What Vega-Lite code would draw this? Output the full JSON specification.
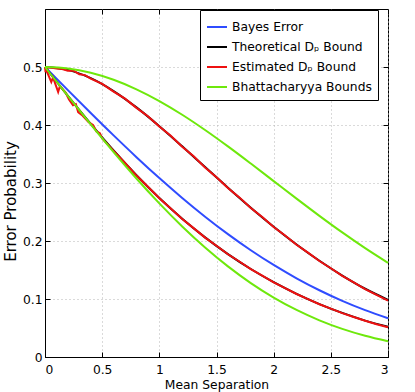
{
  "$schema": "https://vega.github.io/schema/vega-lite/v6.json",
  "width": 343,
  "height": 348,
  "autosize": {"type": "none"},
  "padding": {"left": 45, "top": 9, "right": 27, "bottom": 35},
  "config": {
    "view": {"stroke": "#000", "strokeWidth": 1},
    "font": "DejaVu Sans",
    "axis": {
      "labelFont": "DejaVu Sans", "labelFontSize": 12.3, "labelColor": "#000",
      "titleFont": "DejaVu Sans", "titleFontSize": 12.3, "titleFontWeight": "normal", "titleColor": "#000",
      "domainColor": "#000", "tickColor": "#000", "gridColor": "#b4b4b4", "gridDash": [1, 3], "gridOpacity": 1
    },
    "legend": {
      "orient": "none", "legendX": 155, "legendY": 1,
      "strokeColor": "#000", "fillColor": "#fff", "padding": 6,
      "labelFont": "DejaVu Sans", "labelFontSize": 12.3, "labelColor": "#000",
      "symbolType": "stroke", "symbolStrokeWidth": 2, "symbolSize": 400,
      "rowPadding": 2, "labelOffset": 4
    }
  },
  "datasets": {
    "curves": [
      {"s": "Bayes Error", "p": "m", "x": 0, "y": 0.5},
      {"s": "Bayes Error", "p": "m", "x": 0.2, "y": 0.46017},
      {"s": "Bayes Error", "p": "m", "x": 0.4, "y": 0.42074},
      {"s": "Bayes Error", "p": "m", "x": 0.6, "y": 0.38209},
      {"s": "Bayes Error", "p": "m", "x": 0.8, "y": 0.34458},
      {"s": "Bayes Error", "p": "m", "x": 1.0, "y": 0.30854},
      {"s": "Bayes Error", "p": "m", "x": 1.2, "y": 0.27425},
      {"s": "Bayes Error", "p": "m", "x": 1.4, "y": 0.24196},
      {"s": "Bayes Error", "p": "m", "x": 1.6, "y": 0.21186},
      {"s": "Bayes Error", "p": "m", "x": 1.8, "y": 0.18406},
      {"s": "Bayes Error", "p": "m", "x": 2.0, "y": 0.15866},
      {"s": "Bayes Error", "p": "m", "x": 2.2, "y": 0.13567},
      {"s": "Bayes Error", "p": "m", "x": 2.4, "y": 0.11507},
      {"s": "Bayes Error", "p": "m", "x": 2.6, "y": 0.0968},
      {"s": "Bayes Error", "p": "m", "x": 2.8, "y": 0.08076},
      {"s": "Bayes Error", "p": "m", "x": 3.0, "y": 0.06681},

      {"s": "Theoretical Dₚ Bound", "p": "u", "x": 0, "y": 0.5},
      {"s": "Theoretical Dₚ Bound", "p": "u", "x": 0.2, "y": 0.49505},
      {"s": "Theoretical Dₚ Bound", "p": "u", "x": 0.4, "y": 0.48075},
      {"s": "Theoretical Dₚ Bound", "p": "u", "x": 0.6, "y": 0.45856},
      {"s": "Theoretical Dₚ Bound", "p": "u", "x": 0.8, "y": 0.43034},
      {"s": "Theoretical Dₚ Bound", "p": "u", "x": 1.0, "y": 0.39799},
      {"s": "Theoretical Dₚ Bound", "p": "u", "x": 1.2, "y": 0.36323},
      {"s": "Theoretical Dₚ Bound", "p": "u", "x": 1.4, "y": 0.32749},
      {"s": "Theoretical Dₚ Bound", "p": "u", "x": 1.6, "y": 0.29193},
      {"s": "Theoretical Dₚ Bound", "p": "u", "x": 1.8, "y": 0.25743},
      {"s": "Theoretical Dₚ Bound", "p": "u", "x": 2.0, "y": 0.22464},
      {"s": "Theoretical Dₚ Bound", "p": "u", "x": 2.2, "y": 0.19403},
      {"s": "Theoretical Dₚ Bound", "p": "u", "x": 2.4, "y": 0.1659},
      {"s": "Theoretical Dₚ Bound", "p": "u", "x": 2.6, "y": 0.14042},
      {"s": "Theoretical Dₚ Bound", "p": "u", "x": 2.8, "y": 0.11767},
      {"s": "Theoretical Dₚ Bound", "p": "u", "x": 3.0, "y": 0.0986},
      {"s": "Theoretical Dₚ Bound", "p": "l", "x": 0, "y": 0.5},
      {"s": "Theoretical Dₚ Bound", "p": "l", "x": 0.2, "y": 0.45024},
      {"s": "Theoretical Dₚ Bound", "p": "l", "x": 0.4, "y": 0.4019},
      {"s": "Theoretical Dₚ Bound", "p": "l", "x": 0.6, "y": 0.35605},
      {"s": "Theoretical Dₚ Bound", "p": "l", "x": 0.8, "y": 0.31338},
      {"s": "Theoretical Dₚ Bound", "p": "l", "x": 1.0, "y": 0.27416},
      {"s": "Theoretical Dₚ Bound", "p": "l", "x": 1.2, "y": 0.2385},
      {"s": "Theoretical Dₚ Bound", "p": "l", "x": 1.4, "y": 0.20631},
      {"s": "Theoretical Dₚ Bound", "p": "l", "x": 1.6, "y": 0.17746},
      {"s": "Theoretical Dₚ Bound", "p": "l", "x": 1.8, "y": 0.15174},
      {"s": "Theoretical Dₚ Bound", "p": "l", "x": 2.0, "y": 0.12894},
      {"s": "Theoretical Dₚ Bound", "p": "l", "x": 2.2, "y": 0.10886},
      {"s": "Theoretical Dₚ Bound", "p": "l", "x": 2.4, "y": 0.09128},
      {"s": "Theoretical Dₚ Bound", "p": "l", "x": 2.6, "y": 0.07598},
      {"s": "Theoretical Dₚ Bound", "p": "l", "x": 2.8, "y": 0.06277},
      {"s": "Theoretical Dₚ Bound", "p": "l", "x": 3.0, "y": 0.05225},

      {"s": "Estimated Dₚ Bound", "p": "u", "x": 0, "y": 0.5},
      {"s": "Estimated Dₚ Bound", "p": "u", "x": 0.005, "y": 0.491},
      {"s": "Estimated Dₚ Bound", "p": "u", "x": 0.02, "y": 0.4995},
      {"s": "Estimated Dₚ Bound", "p": "u", "x": 0.06, "y": 0.4985},
      {"s": "Estimated Dₚ Bound", "p": "u", "x": 0.1, "y": 0.4975},
      {"s": "Estimated Dₚ Bound", "p": "u", "x": 0.15, "y": 0.4965},
      {"s": "Estimated Dₚ Bound", "p": "u", "x": 0.2, "y": 0.4935},
      {"s": "Estimated Dₚ Bound", "p": "u", "x": 0.25, "y": 0.4935},
      {"s": "Estimated Dₚ Bound", "p": "u", "x": 0.3, "y": 0.4875},
      {"s": "Estimated Dₚ Bound", "p": "u", "x": 0.35, "y": 0.486},
      {"s": "Estimated Dₚ Bound", "p": "u", "x": 0.4, "y": 0.48},
      {"s": "Estimated Dₚ Bound", "p": "u", "x": 0.5, "y": 0.471},
      {"s": "Estimated Dₚ Bound", "p": "u", "x": 0.6, "y": 0.4575},
      {"s": "Estimated Dₚ Bound", "p": "u", "x": 0.7, "y": 0.4455},
      {"s": "Estimated Dₚ Bound", "p": "u", "x": 0.8, "y": 0.4295},
      {"s": "Estimated Dₚ Bound", "p": "u", "x": 0.9, "y": 0.415},
      {"s": "Estimated Dₚ Bound", "p": "u", "x": 1.0, "y": 0.3975},
      {"s": "Estimated Dₚ Bound", "p": "u", "x": 1.1, "y": 0.3815},
      {"s": "Estimated Dₚ Bound", "p": "u", "x": 1.2, "y": 0.3625},
      {"s": "Estimated Dₚ Bound", "p": "u", "x": 1.3, "y": 0.346},
      {"s": "Estimated Dₚ Bound", "p": "u", "x": 1.4, "y": 0.3268},
      {"s": "Estimated Dₚ Bound", "p": "u", "x": 1.5, "y": 0.31},
      {"s": "Estimated Dₚ Bound", "p": "u", "x": 1.6, "y": 0.2915},
      {"s": "Estimated Dₚ Bound", "p": "u", "x": 1.7, "y": 0.2752},
      {"s": "Estimated Dₚ Bound", "p": "u", "x": 1.8, "y": 0.257},
      {"s": "Estimated Dₚ Bound", "p": "u", "x": 1.9, "y": 0.2415},
      {"s": "Estimated Dₚ Bound", "p": "u", "x": 2.0, "y": 0.2242},
      {"s": "Estimated Dₚ Bound", "p": "u", "x": 2.1, "y": 0.2094},
      {"s": "Estimated Dₚ Bound", "p": "u", "x": 2.2, "y": 0.1936},
      {"s": "Estimated Dₚ Bound", "p": "u", "x": 2.3, "y": 0.18},
      {"s": "Estimated Dₚ Bound", "p": "u", "x": 2.4, "y": 0.1655},
      {"s": "Estimated Dₚ Bound", "p": "u", "x": 2.5, "y": 0.153},
      {"s": "Estimated Dₚ Bound", "p": "u", "x": 2.6, "y": 0.14},
      {"s": "Estimated Dₚ Bound", "p": "u", "x": 2.7, "y": 0.1288},
      {"s": "Estimated Dₚ Bound", "p": "u", "x": 2.8, "y": 0.1172},
      {"s": "Estimated Dₚ Bound", "p": "u", "x": 2.9, "y": 0.1072},
      {"s": "Estimated Dₚ Bound", "p": "u", "x": 3.0, "y": 0.0972},
      {"s": "Estimated Dₚ Bound", "p": "l", "x": 0, "y": 0.5},
      {"s": "Estimated Dₚ Bound", "p": "l", "x": 0.055, "y": 0.474},
      {"s": "Estimated Dₚ Bound", "p": "l", "x": 0.07, "y": 0.482},
      {"s": "Estimated Dₚ Bound", "p": "l", "x": 0.115, "y": 0.457},
      {"s": "Estimated Dₚ Bound", "p": "l", "x": 0.13, "y": 0.467},
      {"s": "Estimated Dₚ Bound", "p": "l", "x": 0.18, "y": 0.456},
      {"s": "Estimated Dₚ Bound", "p": "l", "x": 0.21, "y": 0.444},
      {"s": "Estimated Dₚ Bound", "p": "l", "x": 0.245, "y": 0.434},
      {"s": "Estimated Dₚ Bound", "p": "l", "x": 0.27, "y": 0.436},
      {"s": "Estimated Dₚ Bound", "p": "l", "x": 0.29, "y": 0.422},
      {"s": "Estimated Dₚ Bound", "p": "l", "x": 0.33, "y": 0.416},
      {"s": "Estimated Dₚ Bound", "p": "l", "x": 0.38, "y": 0.405},
      {"s": "Estimated Dₚ Bound", "p": "l", "x": 0.42, "y": 0.4},
      {"s": "Estimated Dₚ Bound", "p": "l", "x": 0.45, "y": 0.389},
      {"s": "Estimated Dₚ Bound", "p": "l", "x": 0.48, "y": 0.386},
      {"s": "Estimated Dₚ Bound", "p": "l", "x": 0.5, "y": 0.377},
      {"s": "Estimated Dₚ Bound", "p": "l", "x": 0.6, "y": 0.3555},
      {"s": "Estimated Dₚ Bound", "p": "l", "x": 0.7, "y": 0.3345},
      {"s": "Estimated Dₚ Bound", "p": "l", "x": 0.8, "y": 0.3128},
      {"s": "Estimated Dₚ Bound", "p": "l", "x": 0.9, "y": 0.2935},
      {"s": "Estimated Dₚ Bound", "p": "l", "x": 1.0, "y": 0.2738},
      {"s": "Estimated Dₚ Bound", "p": "l", "x": 1.1, "y": 0.2562},
      {"s": "Estimated Dₚ Bound", "p": "l", "x": 1.2, "y": 0.238},
      {"s": "Estimated Dₚ Bound", "p": "l", "x": 1.3, "y": 0.2222},
      {"s": "Estimated Dₚ Bound", "p": "l", "x": 1.4, "y": 0.2058},
      {"s": "Estimated Dₚ Bound", "p": "l", "x": 1.5, "y": 0.1918},
      {"s": "Estimated Dₚ Bound", "p": "l", "x": 1.6, "y": 0.1772},
      {"s": "Estimated Dₚ Bound", "p": "l", "x": 1.7, "y": 0.1646},
      {"s": "Estimated Dₚ Bound", "p": "l", "x": 1.8, "y": 0.1515},
      {"s": "Estimated Dₚ Bound", "p": "l", "x": 1.9, "y": 0.1404},
      {"s": "Estimated Dₚ Bound", "p": "l", "x": 2.0, "y": 0.1287},
      {"s": "Estimated Dₚ Bound", "p": "l", "x": 2.1, "y": 0.1187},
      {"s": "Estimated Dₚ Bound", "p": "l", "x": 2.2, "y": 0.1086},
      {"s": "Estimated Dₚ Bound", "p": "l", "x": 2.3, "y": 0.0998},
      {"s": "Estimated Dₚ Bound", "p": "l", "x": 2.4, "y": 0.091},
      {"s": "Estimated Dₚ Bound", "p": "l", "x": 2.5, "y": 0.0833},
      {"s": "Estimated Dₚ Bound", "p": "l", "x": 2.6, "y": 0.0757},
      {"s": "Estimated Dₚ Bound", "p": "l", "x": 2.7, "y": 0.069},
      {"s": "Estimated Dₚ Bound", "p": "l", "x": 2.8, "y": 0.0625},
      {"s": "Estimated Dₚ Bound", "p": "l", "x": 2.9, "y": 0.0566},
      {"s": "Estimated Dₚ Bound", "p": "l", "x": 3.0, "y": 0.0512},

      {"s": "Bhattacharyya Bounds", "p": "u", "x": 0, "y": 0.5},
      {"s": "Bhattacharyya Bounds", "p": "u", "x": 0.2, "y": 0.49751},
      {"s": "Bhattacharyya Bounds", "p": "u", "x": 0.4, "y": 0.4901},
      {"s": "Bhattacharyya Bounds", "p": "u", "x": 0.6, "y": 0.478},
      {"s": "Bhattacharyya Bounds", "p": "u", "x": 0.8, "y": 0.46156},
      {"s": "Bhattacharyya Bounds", "p": "u", "x": 1.0, "y": 0.44125},
      {"s": "Bhattacharyya Bounds", "p": "u", "x": 1.2, "y": 0.41764},
      {"s": "Bhattacharyya Bounds", "p": "u", "x": 1.4, "y": 0.39135},
      {"s": "Bhattacharyya Bounds", "p": "u", "x": 1.6, "y": 0.36307},
      {"s": "Bhattacharyya Bounds", "p": "u", "x": 1.8, "y": 0.33349},
      {"s": "Bhattacharyya Bounds", "p": "u", "x": 2.0, "y": 0.30327},
      {"s": "Bhattacharyya Bounds", "p": "u", "x": 2.2, "y": 0.27304},
      {"s": "Bhattacharyya Bounds", "p": "u", "x": 2.4, "y": 0.24338},
      {"s": "Bhattacharyya Bounds", "p": "u", "x": 2.6, "y": 0.21478},
      {"s": "Bhattacharyya Bounds", "p": "u", "x": 2.8, "y": 0.18766},
      {"s": "Bhattacharyya Bounds", "p": "u", "x": 3.0, "y": 0.16233},
      {"s": "Bhattacharyya Bounds", "p": "l", "x": 0, "y": 0.5},
      {"s": "Bhattacharyya Bounds", "p": "l", "x": 0.2, "y": 0.45012},
      {"s": "Bhattacharyya Bounds", "p": "l", "x": 0.4, "y": 0.40099},
      {"s": "Bhattacharyya Bounds", "p": "l", "x": 0.6, "y": 0.35331},
      {"s": "Bhattacharyya Bounds", "p": "l", "x": 0.8, "y": 0.30774},
      {"s": "Bhattacharyya Bounds", "p": "l", "x": 1.0, "y": 0.26484},
      {"s": "Bhattacharyya Bounds", "p": "l", "x": 1.2, "y": 0.22508},
      {"s": "Bhattacharyya Bounds", "p": "l", "x": 1.4, "y": 0.18881},
      {"s": "Bhattacharyya Bounds", "p": "l", "x": 1.6, "y": 0.15623},
      {"s": "Bhattacharyya Bounds", "p": "l", "x": 1.8, "y": 0.12746},
      {"s": "Bhattacharyya Bounds", "p": "l", "x": 2.0, "y": 0.10247},
      {"s": "Bhattacharyya Bounds", "p": "l", "x": 2.2, "y": 0.08113},
      {"s": "Bhattacharyya Bounds", "p": "l", "x": 2.4, "y": 0.06323},
      {"s": "Bhattacharyya Bounds", "p": "l", "x": 2.6, "y": 0.04848},
      {"s": "Bhattacharyya Bounds", "p": "l", "x": 2.8, "y": 0.03655},
      {"s": "Bhattacharyya Bounds", "p": "l", "x": 3.0, "y": 0.02709}
    ]
  },
  "data": {"name": "curves"},
  "layer": [
    {
      "transform": [{"filter": "datum.s === 'Bayes Error'"}],
      "mark": {"type": "line", "strokeWidth": 2, "interpolate": "monotone"},
      "encoding": {
        "x": {"field": "x", "type": "quantitative", "scale": {"domain": [0, 3], "nice": false},
          "axis": {"values": [0, 0.5, 1, 1.5, 2, 2.5, 3], "format": "~g", "title": "Mean Separation", "grid": true, "tickSize": -5, "labelPadding": 11, "titleBaseline": "alphabetic", "titleY": 31.5}},
        "y": {"field": "y", "type": "quantitative", "scale": {"domain": [0, 0.6], "nice": false},
          "axis": {"values": [0, 0.1, 0.2, 0.3, 0.4, 0.5], "format": "~g", "title": "Error Probability", "grid": true, "tickSize": -5, "labelPadding": 8, "titleFontSize": 15, "titleY": 192, "titleX": -27}},
        "color": {"field": "s", "type": "nominal", "legend": {"title": null},
          "scale": {"domain": ["Bayes Error", "Theoretical Dₚ Bound", "Estimated Dₚ Bound", "Bhattacharyya Bounds"], "range": ["#2f4cff", "#000000", "#ee1111", "#6ee80c"]}},
        "detail": {"field": "p"}
      }
    },
    {
      "transform": [{"filter": "datum.s === 'Theoretical Dₚ Bound'"}],
      "mark": {"type": "line", "strokeWidth": 2, "interpolate": "monotone"},
      "encoding": {
        "x": {"field": "x", "type": "quantitative", "scale": {"domain": [0, 3], "nice": false}, "axis": null},
        "y": {"field": "y", "type": "quantitative", "scale": {"domain": [0, 0.6], "nice": false}, "axis": null},
        "color": {"field": "s", "type": "nominal", "legend": {"title": null},
          "scale": {"domain": ["Bayes Error", "Theoretical Dₚ Bound", "Estimated Dₚ Bound", "Bhattacharyya Bounds"], "range": ["#2f4cff", "#000000", "#ee1111", "#6ee80c"]}},
        "detail": {"field": "p"}
      }
    },
    {
      "transform": [{"filter": "datum.s === 'Estimated Dₚ Bound'"}],
      "mark": {"type": "line", "strokeWidth": 2},
      "encoding": {
        "x": {"field": "x", "type": "quantitative", "scale": {"domain": [0, 3], "nice": false}, "axis": null},
        "y": {"field": "y", "type": "quantitative", "scale": {"domain": [0, 0.6], "nice": false}, "axis": null},
        "color": {"field": "s", "type": "nominal", "legend": {"title": null},
          "scale": {"domain": ["Bayes Error", "Theoretical Dₚ Bound", "Estimated Dₚ Bound", "Bhattacharyya Bounds"], "range": ["#2f4cff", "#000000", "#ee1111", "#6ee80c"]}},
        "detail": {"field": "p"}
      }
    },
    {
      "transform": [{"filter": "datum.s === 'Bhattacharyya Bounds'"}],
      "mark": {"type": "line", "strokeWidth": 2, "interpolate": "monotone"},
      "encoding": {
        "x": {"field": "x", "type": "quantitative", "scale": {"domain": [0, 3], "nice": false}, "axis": null},
        "y": {"field": "y", "type": "quantitative", "scale": {"domain": [0, 0.6], "nice": false}, "axis": null},
        "color": {"field": "s", "type": "nominal", "legend": {"title": null},
          "scale": {"domain": ["Bayes Error", "Theoretical Dₚ Bound", "Estimated Dₚ Bound", "Bhattacharyya Bounds"], "range": ["#2f4cff", "#000000", "#ee1111", "#6ee80c"]}},
        "detail": {"field": "p"}
      }
    },
    {
      "transform": [{"filter": "datum.s === 'Bayes Error'"}],
      "mark": {"type": "line", "opacity": 0},
      "encoding": {
        "x": {"field": "x", "type": "quantitative", "scale": {"domain": [0, 3], "nice": false},
          "axis": {"orient": "top", "values": [0, 0.5, 1, 1.5, 2, 2.5, 3], "labels": false, "title": null, "grid": false, "domain": false, "tickSize": -5}},
        "y": {"field": "y", "type": "quantitative", "scale": {"domain": [0, 0.6], "nice": false},
          "axis": {"orient": "right", "values": [0, 0.1, 0.2, 0.3, 0.4, 0.5], "labels": false, "title": null, "grid": false, "domain": false, "tickSize": -5}}
      }
    }
  ],
  "resolve": {"axis": {"x": "independent", "y": "independent"}}
}
